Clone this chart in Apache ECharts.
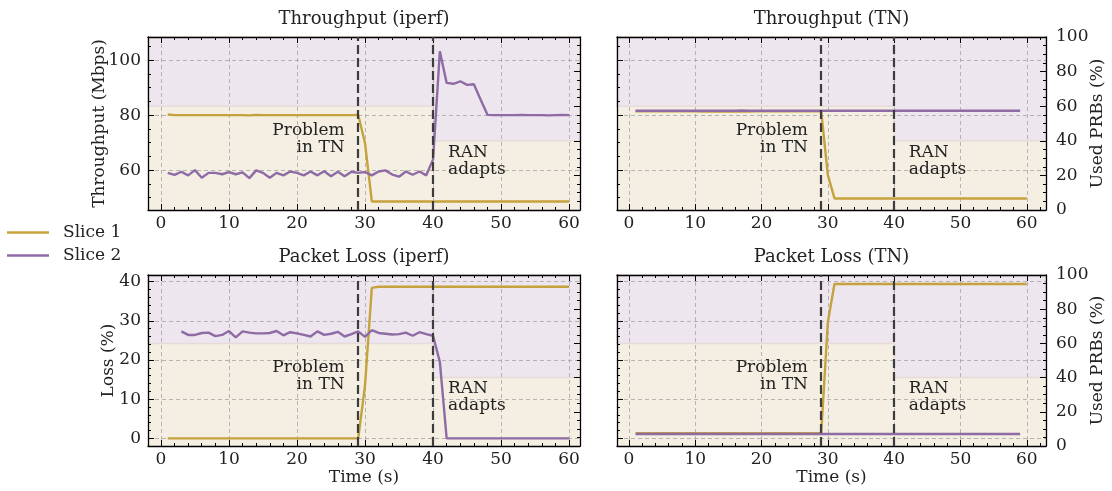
<!DOCTYPE html>
<html>
<head>
<meta charset="UTF-8">
<script src="https://cdn.jsdelivr.net/npm/echarts@6/dist/echarts.min.js"></script>
<style>
html, body { margin: 0; padding: 0; background: #fff; }
#main { width: 1112px; height: 491px; }
</style>
</head>
<body>
<div id="main"></div>
<script>
// time axis (s)
var time = [1,2,3,4,5,6,7,8,9,10,11,12,13,14,15,16,17,18,19,20,
            21,22,23,24,25,26,27,28,29,30,31,32,33,34,35,36,37,38,39,40,
            41,42,43,44,45,46,47,48,49,50,51,52,53,54,55,56,57,58,59,60];

// Throughput (iperf), Mbps
var tputIperfSlice1 = [80.2,80.0,80.0,80.0,80.0,80.0,80.0,80.0,80.0,80.0,80.0,80.0,79.9,80.1,80.0,80.0,80.0,80.0,80.0,80.0,
                       80.0,80.0,80.0,80.0,80.0,80.0,80.0,80.0,80.1,69.8,48.6,48.6,48.6,48.6,48.6,48.6,48.6,48.6,48.6,48.6,
                       48.6,48.6,48.6,48.6,48.6,48.6,48.6,48.6,48.6,48.6,48.6,48.6,48.6,48.6,48.6,48.6,48.6,48.6,48.6,48.6];
var tputIperfSlice2 = [59.0,58.3,59.4,58.1,60.0,57.2,59.0,59.0,58.5,59.3,58.5,59.2,57.1,59.9,59.0,57.2,59.0,58.1,59.5,59.0,
                       58.1,59.5,58.1,59.6,57.8,59.4,57.8,59.4,59.0,59.3,58.1,59.5,59.9,58.4,57.6,59.5,58.3,59.5,58.1,63.9,
                       103.2,91.7,91.4,92.3,91.0,91.2,85.6,80.1,80.0,80.0,80.0,80.0,80.1,80.0,80.0,80.0,79.9,80.0,80.1,80.0];

// Throughput (TN), Mbps
var tputTnSlice1 = [81.4,81.4,81.4,81.4,81.4,81.4,81.4,81.4,81.4,81.4,81.3,81.3,81.3,81.3,81.3,81.3,81.3,81.3,81.4,81.4,
                    81.4,81.4,81.4,81.4,81.4,81.4,81.4,81.4,81.4,58.2,49.7,49.7,49.7,49.7,49.7,49.7,49.7,49.7,49.7,49.7,
                    49.7,49.7,49.7,49.7,49.7,49.7,49.7,49.7,49.7,49.7,49.7,49.7,49.7,49.7,49.7,49.7,49.7,49.7,49.7,49.7];
var tputTnSlice2 = [81.6,81.6,81.6,81.6,81.6,81.6,81.6,81.6,81.6,81.6,81.6,81.6,81.6,81.6,81.6,81.6,81.7,81.6,81.6,81.6,
                    81.6,81.6,81.6,81.6,81.6,81.6,81.6,81.6,81.6,81.6,81.6,81.6,81.6,81.6,81.6,81.6,81.6,81.6,81.6,81.6,
                    81.6,81.6,81.6,81.6,81.6,81.6,81.6,81.6,81.6,81.6,81.6,81.6,81.6,81.6,81.6,81.6,81.6,81.6,81.6,null];

// Packet loss (iperf), %
var lossIperfSlice1 = [0.0,0.0,0.0,0.0,0.0,0.0,0.0,0.0,0.0,0.0,0.0,0.0,0.0,0.0,0.0,0.0,0.0,0.0,0.0,0.0,
                       0.0,0.0,0.0,0.0,0.0,0.0,0.0,0.0,0.0,13.5,38.4,38.7,38.7,38.7,38.7,38.7,38.7,38.7,38.7,38.7,
                       38.7,38.7,38.7,38.7,38.7,38.7,38.7,38.7,38.7,38.7,38.7,38.7,38.7,38.7,38.7,38.7,38.7,38.7,38.7,38.7];
var lossIperfSlice2 = [null,null,27.3,26.4,26.4,26.9,27.0,26.1,26.4,27.4,25.8,27.3,27.0,26.8,26.8,26.9,27.4,26.3,27.1,26.8,
                       26.4,26.0,27.3,26.4,26.7,27.2,26.0,26.6,27.3,25.9,27.6,26.9,26.7,26.5,26.6,27.0,26.2,27.1,26.6,26.2,
                       19.5,0.0,0.0,0.0,0.0,0.0,0.0,0.0,0.0,0.0,0.0,0.0,0.0,0.0,0.0,0.0,0.0,0.0,0.0,0.0];

// Packet loss (TN), %
var lossTnSlice1 = [1.3,1.3,1.3,1.3,1.3,1.3,1.3,1.3,1.3,1.3,1.3,1.3,1.3,1.3,1.3,1.3,1.3,1.3,1.3,1.3,
                    1.3,1.3,1.3,1.3,1.3,1.3,1.3,1.3,1.3,29.7,39.4,39.4,39.4,39.4,39.4,39.4,39.4,39.4,39.4,39.4,
                    39.4,39.4,39.4,39.4,39.4,39.4,39.4,39.4,39.4,39.4,39.4,39.4,39.4,39.4,39.4,39.4,39.4,39.4,39.4,39.4];
var lossTnSlice2 = [1.1,1.1,1.1,1.1,1.1,1.1,1.1,1.1,1.1,1.1,1.1,1.1,1.1,1.1,1.1,1.1,1.1,1.1,1.1,1.1,
                    1.1,1.1,1.1,1.1,1.1,1.1,1.1,1.1,1.1,1.1,1.1,1.1,1.1,1.1,1.1,1.1,1.1,1.1,1.1,1.1,
                    1.1,1.1,1.1,1.1,1.1,1.1,1.1,1.1,1.1,1.1,1.1,1.1,1.1,1.1,1.1,1.1,1.1,1.1,1.1,null];

// used PRBs (%) share and events
var prbSlice1Before = 60;
var prbSlice1After = 40;
var prbTotal = 100;
var problemTime = 29;
var adaptTime = 40;

// tick values
var xTicks = [0,10,20,30,40,50,60];
var xMinorTicks = [0,2,4,6,8,10,12,14,16,18,20,22,24,26,28,30,32,34,36,38,40,42,44,46,48,50,52,54,56,58,60,62];
var tputTicks = [60,80,100];
var tputMinorTicks = [50,55,60,65,70,75,80,85,90,95,100,105];
var lossTicks = [0,10,20,30,40];
var lossMinorTicks = [0,2,4,6,8,10,12,14,16,18,20,22,24,26,28,30,32,34,36,38,40];
var prbTicks = [0,20,40,60,80,100];
var prbMinorTicks = [0,5,10,15,20,25,30,35,40,45,50,55,60,65,70,75,80,85,90,95,100];

var titles = ['Throughput (iperf)', 'Throughput (TN)', 'Packet Loss (iperf)', 'Packet Loss (TN)'];
var seriesNames = ['Slice 1', 'Slice 2'];

var font = 'DejaVu Serif';
var tanLine = '#c6a23e', purpleLine = '#8e6ba4';
var tanFill = '#f4efe2', lavFill = '#ede6ef';

function pairs(arr) {
    var out = [];
    for (var k = 0; k < time.length; k++) {
        if (arr[k] !== null) out.push([time[k], arr[k]]);
    }
    return out;
}

var panels = [
    { grid: {left: 148, top: 37, width: 432, height: 173}, xMin: -1.9, xMax: 61.6, yMin: 45.5, yMax: 108.4, ySplit: 3,
      yTicks: tputTicks, yMinor: tputMinorTicks, yName: 'Throughput (Mbps)', yGap: 40, left: true, xName: '',
      s1: tputIperfSlice1, s2: tputIperfSlice2 },
    { grid: {left: 617, top: 37, width: 429, height: 173}, xMin: -1.8, xMax: 62.9, yMin: 45.5, yMax: 108.4, ySplit: 3,
      yTicks: tputTicks, yMinor: tputMinorTicks, yName: '', yGap: 40, left: false, xName: '',
      s1: tputTnSlice1, s2: tputTnSlice2 },
    { grid: {left: 148, top: 275, width: 432, height: 171}, xMin: -1.9, xMax: 61.6, yMin: -1.95, yMax: 41.7, ySplit: 4,
      yTicks: lossTicks, yMinor: lossMinorTicks, yName: 'Loss (%)', yGap: 31, left: true, xName: 'Time (s)',
      s1: lossIperfSlice1, s2: lossIperfSlice2 },
    { grid: {left: 617, top: 275, width: 429, height: 171}, xMin: -1.8, xMax: 62.9, yMin: -1.95, yMax: 41.7, ySplit: 4,
      yTicks: lossTicks, yMinor: lossMinorTicks, yName: '', yGap: 31, left: false, xName: 'Time (s)',
      s1: lossTnSlice1, s2: lossTnSlice2 }
];

var frame = {show: true, onZero: false, lineStyle: {color: '#000', width: 1.3}};
var noLine = {show: false, onZero: false};
var txtStyle = {color: '#222', fontFamily: font, fontSize: 17};
var dashGrid = {show: true, lineStyle: {color: '#a4a4a4', type: [4, 3], width: 0.8}};

var option = {
    animation: false,
    backgroundColor: '#fff',
    textStyle: {fontFamily: font},
    legend: {
        data: seriesNames, orient: 'vertical', left: 2, top: 219,
        icon: 'rect', itemWidth: 42, itemHeight: 2.5, itemGap: 6,
        textStyle: {color: '#222', fontFamily: font, fontSize: 17, padding: [0, 0, 0, 9]}
    },
    grid: [], xAxis: [], yAxis: [], series: []
};

panels.forEach(function (p, i) {
    option.grid.push(p.grid);
    var xb = {type: 'value', gridIndex: i, min: p.xMin, max: p.xMax, z: 3};
    // bottom x, major ticks + labels + grid
    option.xAxis.push(Object.assign({}, xb, {
        position: 'bottom', name: p.xName, nameLocation: 'middle', nameGap: 22, nameTextStyle: txtStyle,
        axisLine: frame,
        axisTick: {inside: true, length: 6, customValues: xTicks, lineStyle: {color: '#000'}},
        axisLabel: Object.assign({customValues: xTicks, margin: 5}, txtStyle),
        splitLine: dashGrid
    }));
    option.xAxis.push(Object.assign({}, xb, {
        position: 'bottom', axisLine: noLine, axisLabel: {show: false}, splitLine: {show: false},
        axisTick: {inside: true, length: 3, customValues: xMinorTicks, lineStyle: {color: '#000'}}
    }));
    // top x mirror, carries the title
    option.xAxis.push(Object.assign({}, xb, {
        position: 'top', name: titles[i], nameLocation: 'middle', nameGap: 9,
        nameTextStyle: {color: '#222', fontFamily: font, fontSize: 18},
        axisLine: frame, axisLabel: {show: false}, splitLine: {show: false},
        axisTick: {inside: true, length: 6, customValues: xTicks, lineStyle: {color: '#000'}}
    }));
    option.xAxis.push(Object.assign({}, xb, {
        position: 'top', axisLine: noLine, axisLabel: {show: false}, splitLine: {show: false},
        axisTick: {inside: true, length: 3, customValues: xMinorTicks, lineStyle: {color: '#000'}}
    }));

    var yb = {type: 'value', gridIndex: i, min: p.yMin, max: p.yMax, z: 3};
    option.yAxis.push(Object.assign({}, yb, {
        position: 'left', splitNumber: p.ySplit, name: p.yName, nameLocation: 'middle', nameRotate: 90, nameGap: p.yGap,
        nameMoveOverlap: false,
        nameTextStyle: txtStyle, axisLine: frame,
        axisTick: {inside: true, length: 6, customValues: p.yTicks, lineStyle: {color: '#000'}},
        axisLabel: Object.assign({show: p.left, customValues: p.yTicks, margin: 7}, txtStyle),
        splitLine: dashGrid
    }));
    option.yAxis.push(Object.assign({}, yb, {
        position: 'left', axisLine: noLine, axisLabel: {show: false}, splitLine: {show: false},
        axisTick: {inside: true, length: 3, customValues: p.yMinor, lineStyle: {color: '#000'}}
    }));
    var pb = {type: 'value', gridIndex: i, min: 0, max: prbTotal, z: 3};
    option.yAxis.push(Object.assign({}, pb, {
        position: 'right', name: p.left ? '' : 'Used PRBs (%)', nameLocation: 'middle', nameRotate: 90, nameGap: 43,
        nameMoveOverlap: false,
        nameTextStyle: txtStyle, axisLine: frame,
        axisTick: {inside: true, length: 6, customValues: prbTicks, lineStyle: {color: '#000'}},
        axisLabel: Object.assign({show: !p.left, customValues: prbTicks, margin: 10}, txtStyle),
        splitLine: {show: false}
    }));
    option.yAxis.push(Object.assign({}, pb, {
        position: 'right', axisLine: noLine, axisLabel: {show: false}, splitLine: {show: false},
        axisTick: {inside: true, length: 3, customValues: prbMinorTicks, lineStyle: {color: '#000'}}
    }));

    var xi = i * 4, yi = i * 4;
    var tanArea = {color: tanFill};
    var lavArea = {color: lavFill, borderColor: '#e6dbd8', borderWidth: 1.5};
    // PRB shading
    option.series.push({
        type: 'line', xAxisIndex: xi, yAxisIndex: yi + 2, data: [], z: 1, silent: true,
        markArea: {
            silent: true,
            data: [
                [{xAxis: -Infinity, yAxis: 0, itemStyle: tanArea}, {xAxis: adaptTime, yAxis: prbSlice1Before}],
                [{xAxis: adaptTime, yAxis: 0, itemStyle: tanArea}, {xAxis: Infinity, yAxis: prbSlice1After}],
                [{xAxis: -Infinity, yAxis: prbSlice1Before, itemStyle: lavArea}, {xAxis: adaptTime, yAxis: prbTotal}],
                [{xAxis: adaptTime, yAxis: prbSlice1After, itemStyle: lavArea}, {xAxis: Infinity, yAxis: prbTotal}]
            ]
        }
    });
    option.series.push({
        name: seriesNames[0], type: 'line', xAxisIndex: xi, yAxisIndex: yi, data: pairs(p.s1),
        symbol: 'none', z: 4, lineStyle: {color: tanLine, width: 2.4}, itemStyle: {color: tanLine}
    });
    option.series.push({
        name: seriesNames[1], type: 'line', xAxisIndex: xi, yAxisIndex: yi, data: pairs(p.s2),
        symbol: 'none', z: 4, lineStyle: {color: purpleLine, width: 2.4}, itemStyle: {color: purpleLine}
    });
    // event lines and notes
    var note = {show: true, position: 'inside', verticalAlign: 'middle', color: '#222',
                fontFamily: font, fontSize: 17, lineHeight: 17};
    option.series.push({
        type: 'line', xAxisIndex: xi, yAxisIndex: yi + 2, data: [], z: 5, silent: true,
        markLine: {
            silent: true, symbol: 'none', label: {show: false},
            lineStyle: {color: '#3c3c3c', width: 2.2, type: [9, 4]},
            data: [{xAxis: problemTime}, {xAxis: adaptTime}]
        },
        markPoint: {
            silent: true, symbol: 'circle', symbolSize: 0,
            data: [
                {coord: [27, 41], label: Object.assign({formatter: 'Problem\nin TN', align: 'right'}, note)},
                {coord: [42.2, 28.5], label: Object.assign({formatter: 'RAN\nadapts', align: 'left'}, note)}
            ]
        }
    });
});

var myChart = echarts.init(document.getElementById('main'));
myChart.setOption(option);
</script>
</body>
</html>
